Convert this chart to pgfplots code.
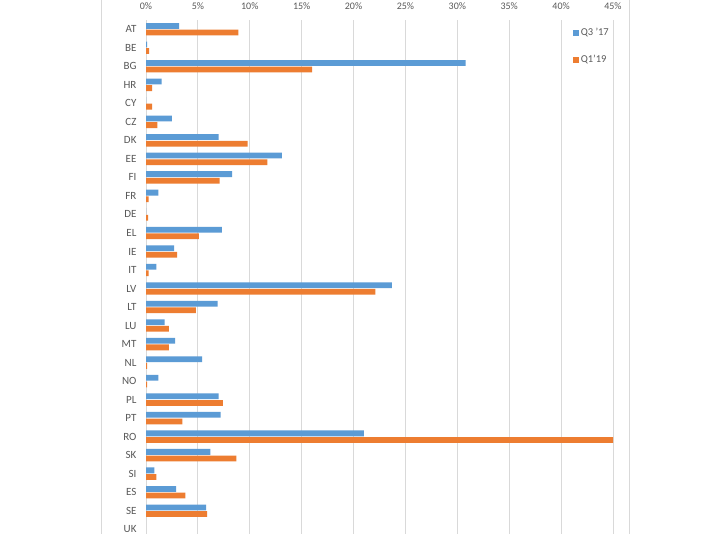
\documentclass[border=0pt]{standalone}
\usepackage{pgfplots}
\pgfplotsset{compat=1.18}
\usepackage{fontspec}
\setmainfont{Carlito}
\definecolor{cblue}{HTML}{5B9BD5}
\definecolor{corange}{HTML}{ED7D31}
\definecolor{tgray}{HTML}{595959}
\definecolor{ggray}{HTML}{D9D9D9}
\begin{document}
\begin{tikzpicture}[x=1pt,y=1pt]
\path[use as bounding box] (0,0) rectangle (723,533);
\clip (0,0) rectangle (723,533);
\fill[white] (0,0) rectangle (723,533);
\draw[ggray, line width=0.8pt] (101.5,-10) rectangle (629,600);
\begin{axis}[
  at={(146pt,513pt)}, anchor=north west,
  scale only axis, width=467pt, height=518.5pt,
  xbar, bar width=5.8pt,
  xmin=0, xmax=45, ymin=-0.5, ymax=27.5, y dir=reverse,
  ytick={0,...,27},
  yticklabels={AT,BE,BG,HR,CY,CZ,DK,EE,FI,FR,DE,EL,IE,IT,LV,LT,LU,MT,NL,NO,PL,PT,RO,SK,SI,ES,SE,UK},
  xtick={0,5,...,45}, xticklabel pos=upper,
  xticklabel={\pgfmathprintnumber{\tick}\%},
  major tick length=0pt,
  axis line style={draw=none},
  xmajorgrids, grid style={ggray, line width=0.8pt},
  ymajorgrids=false,
  xticklabel style={font=\fontsize{10}{12}\selectfont, text=tgray, yshift=7pt},
  yticklabel style={font=\fontsize{11}{13}\selectfont, text=tgray, xshift=-6pt},
  /pgf/number format/assume math mode=true,
  legend style={at={(0.907,0.992)}, anchor=north west, draw=none, fill=none,
    font=\fontsize{10.5}{12}\selectfont, text=tgray, row sep=14pt},
  legend cell align=left,
  legend image code/.code={\fill[#1] (0pt,-3pt) rectangle (6pt,3pt);},
]
\addplot[fill=cblue, draw=none, bar shift=3.3pt] coordinates {
(3.2,0) (0.12,1) (30.8,2) (1.5,3) (0,4) (2.5,5) (7.0,6) (13.1,7) (8.3,8) (1.2,9)
(0,10) (7.3,11) (2.7,12) (1.0,13) (23.7,14) (6.9,15) (1.8,16) (2.8,17) (5.4,18) (1.2,19)
(7.0,20) (7.2,21) (21.0,22) (6.2,23) (0.8,24) (2.9,25) (5.8,26)
};
\addplot[fill=corange, draw=none, bar shift=-3.3pt] coordinates {
(8.9,0) (0.3,1) (16.0,2) (0.6,3) (0.6,4) (1.1,5) (9.8,6) (11.7,7) (7.1,8) (0.25,9)
(0.2,10) (5.1,11) (3.0,12) (0.25,13) (22.1,14) (4.8,15) (2.2,16) (2.2,17) (0.1,18) (0.1,19)
(7.4,20) (3.5,21) (45.0,22) (8.7,23) (1.0,24) (3.8,25) (5.9,26)
};
\legend{Q3 '17, Q1'19}
\end{axis}
\end{tikzpicture}
\end{document}
